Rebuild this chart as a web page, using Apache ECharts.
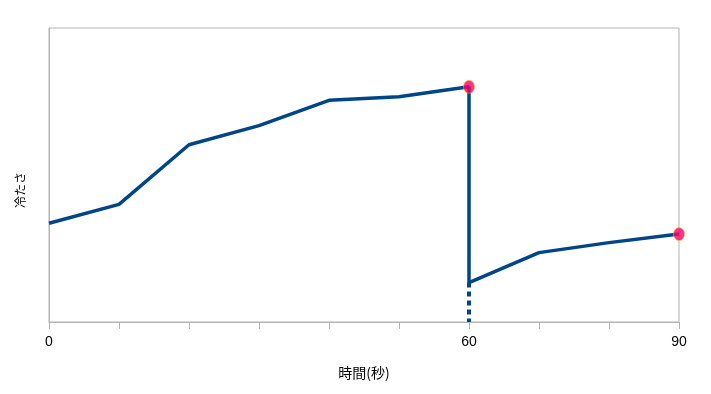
<!DOCTYPE html>
<html>
<head>
<meta charset="utf-8">
<script src="https://cdn.jsdelivr.net/npm/echarts@6/dist/echarts.min.js"></script>
<style>html,body{margin:0;padding:0;background:#fff;}#c{width:711px;height:394px;}</style>
</head>
<body>
<div id="c"></div>
<script>
const xLabels = [0, 60, 90];
const lineTimes = [0, 10, 20, 30, 40, 50, 60, 60, 70, 80, 90];
const lineValues = [33.6, 40.0, 60.3, 66.8, 75.4, 76.6, 80.0, 13.4, 23.6, 27.0, 29.9];
const dashTimes = [60, 60];
const dashValues = [13.4, 0];
const markTimes = [60, 90];
const markValues = [80.0, 29.9];

const zip = (a, b) => a.map((v, i) => [v, b[i]]);
const chart = echarts.init(document.getElementById('c'), null, {renderer: 'canvas'});
chart.setOption({
  animation: false,
  grid: {left: 49, right: 32, top: 28, bottom: 72, show: true, borderColor: '#b3b3b3', borderWidth: 1, backgroundColor: 'transparent'},
  xAxis: {
    type: 'value', min: 0, max: 90, interval: 10,
    name: '時間(秒)', nameLocation: 'middle', nameGap: 44,
    nameTextStyle: {fontFamily: 'Noto Sans CJK JP', fontSize: 14, color: '#000'},
    axisLine: {show: true, lineStyle: {color: '#b3b3b3', width: 1}},
    axisTick: {show: true, inside: false, length: 7, lineStyle: {color: '#b3b3b3'}},
    splitLine: {show: false},
    axisLabel: {
      show: true, margin: 13, fontFamily: 'Liberation Sans', fontSize: 14, color: '#000',
      formatter: v => xLabels.includes(v) ? String(v) : ''
    }
  },
  yAxis: {
    type: 'value', min: 0, max: 100,
    name: '冷たさ', nameLocation: 'middle', nameGap: 23, nameRotate: 90,
    nameTextStyle: {fontFamily: 'Noto Sans CJK JP', fontSize: 12, color: '#000', padding: [0, 30, 0, 0]},
    axisLine: {show: true, lineStyle: {color: '#b3b3b3', width: 1}},
    axisTick: {show: false},
    axisLabel: {show: false},
    splitLine: {show: false}
  },
  series: [
    {
      type: 'line', data: zip(lineTimes, lineValues), showSymbol: false, symbol: 'none',
      lineStyle: {color: '#004586', width: 3.5}, z: 2
    },
    {
      type: 'line', data: zip(dashTimes, dashValues), showSymbol: false, symbol: 'none',
      lineStyle: {color: '#004586', width: 4, type: [5, 4]}, z: 2
    },
    {
      type: 'scatter', data: zip(markTimes, markValues), symbol: 'circle', symbolSize: [11, 13],
      itemStyle: {color: '#ff0066', borderColor: '#ffcc00', borderWidth: 0.6}, z: 3
    }
  ]
});
</script>
</body>
</html>
